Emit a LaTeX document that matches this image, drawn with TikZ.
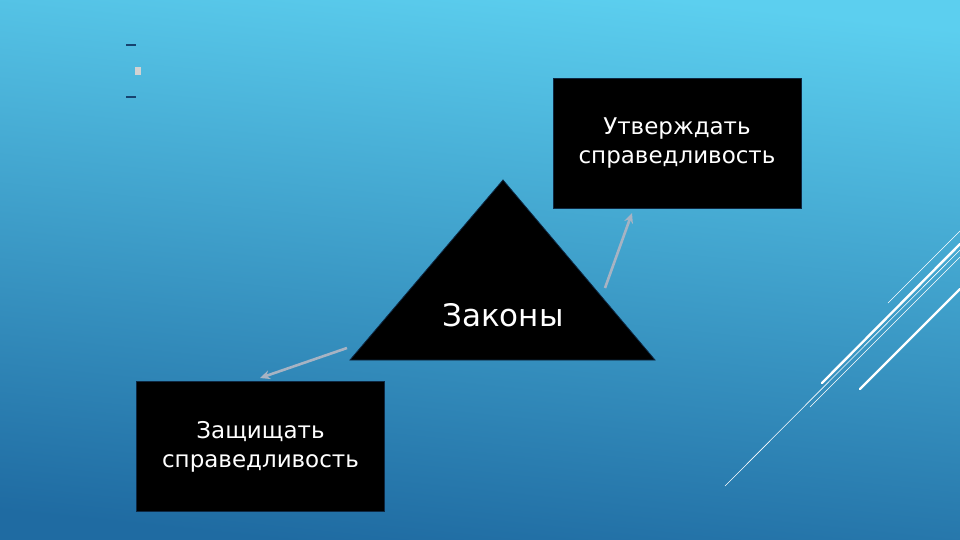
\documentclass[tikz,border=0pt]{standalone}
\usepackage{fontspec}
\setmainfont{DejaVu Sans}
\usetikzlibrary{arrows.meta,positioning}
\definecolor{bgtop}{HTML}{5CCFEF}
\definecolor{bgbottom}{HTML}{1F6BA2}
\definecolor{arrowgrey}{HTML}{A7B3C3}
\definecolor{markblue}{HTML}{17436F}
\begin{document}
\begin{tikzpicture}
[x=1pt,y=-1pt,
  boxdecorate/.style={shape=rectangle,fill=black,draw=markblue!60!black,line width=0.8pt,
    minimum width=248pt,minimum height=130pt,text=white,align=center,
    font=\fontsize{23}{29}\selectfont},%
  arrowdecorate/.style={-{Stealth[length=10pt,width=9pt]},line width=2.6pt,draw=arrowgrey},%
  slashdecorate/.style={draw=white,line cap=round}]
\useasboundingbox (0,0) rectangle (960,540);
%% background
\shade[top color=bgtop,bottom color=bgbottom,shading angle=-6] (0,0) rectangle (960,540);
%% marks at the top left
\foreach \y in {45,97} {
  \draw[markblue,line width=2pt] (126,\y) -- (136,\y);
}
\fill[gray!35] (135,67) rectangle (141,75);
%% triangle
\coordinate (apex) at (503,180);
\coordinate (baseL) at (350,360);
\coordinate (baseR) at (655,360);
\filldraw[fill=black,draw=markblue!60!black,line width=0.8pt] (apex) -- (baseR) -- (baseL) -- cycle;
\node (laws) at (503,315) [text=white,font=\fontsize{31}{36}\selectfont] {Законы};
%% boxes
\node (affirm) at (677,143) [boxdecorate] {Утверждать\\справедливость};
\node (protect) at (260.5,446.5) [boxdecorate] {Защищать\\справедливость};
%% arrows
\coordinate (fromL) at (347,348);
\coordinate (toL) at (260,378);
\coordinate (fromR) at (605,288);
\coordinate (toR) at (632,213);
\path
\foreach \startnode/\endnode in {fromL/toL, fromR/toR} {
  (\startnode) edge[arrowdecorate] (\endnode)
};
%% white strokes on the right
\foreach \xa/\ya/\xb/\yb/\w in {725/486/960/250/0.6, 888/303/960/231/0.6,
  822/383/960/244/2.4, 810/407/960/257/0.6, 860/389/960/289/2.4} {
  \draw[slashdecorate,line width=\w pt] (\xa,\ya) -- (\xb,\yb);
}
\end{tikzpicture}
\end{document}
